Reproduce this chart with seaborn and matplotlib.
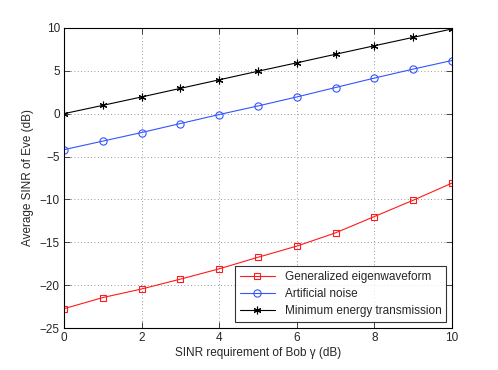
import numpy as np
import pandas as pd
import matplotlib
matplotlib.use("Agg")
import matplotlib.pyplot as plt
import seaborn as sns

gamma = [0, 1, 2, 3, 4, 5, 6, 7, 8, 9, 10]
gen_eigen = [-22.75, -21.45, -20.45, -19.3, -18.1, -16.75, -15.45, -13.9, -12.0, -10.1, -8.1]
art_noise = [-4.2, -3.2, -2.2, -1.15, -0.1, 0.9, 1.95, 3.05, 4.15, 5.2, 6.2]
min_energy = [0.0, 0.97, 1.95, 2.95, 3.95, 4.95, 5.93, 6.93, 7.92, 8.9, 9.88]

labels = ["Generalized eigenwaveform", "Artificial noise", "Minimum energy transmission"]
colors = ["#ff1a1a", "#3355ff", "black"]
markers = ["s", "o", (6, 2, 0)]
msizes = [4.6, 5.2, 5.5]

df = pd.DataFrame({"gamma": gamma * 3,
                   "sinr": gen_eigen + art_noise + min_energy,
                   "method": [labels[0]] * 11 + [labels[1]] * 11 + [labels[2]] * 11})

sns.set_style("white")
plt.rcParams["font.family"] = ["Liberation Sans", "DejaVu Sans"]
plt.rcParams["font.size"] = 8.5

fig = plt.figure(figsize=(4.98, 3.70), dpi=100)
ax = fig.add_axes([0.1285, 0.1135, 0.779, 0.811])

for lab, c, m, ms in zip(labels, colors, markers, msizes):
    sub = df[df["method"] == lab]
    sns.lineplot(data=sub, x="gamma", y="sinr", ax=ax, color=c, marker=m,
                 markersize=ms, markerfacecolor="none",
                 markeredgecolor=c, markeredgewidth=0.8, linewidth=0.8,
                 label=lab)

ax.set_xlim(0, 10)
ax.set_ylim(-25, 10)
ax.set_xticks(np.arange(0, 11, 2))
ax.set_yticks(np.arange(-25, 11, 5))
ax.set_yticklabels([str(v).replace("-", "\u2212") for v in range(-25, 11, 5)])
ax.grid(True, linestyle=(0, (1, 3)), color="#777777", linewidth=0.6)
ax.tick_params(direction="in", bottom=True, left=True, top=True, right=True,
               length=4, width=0.6, labelsize=8.5, pad=3)
for s in ax.spines.values():
    s.set_linewidth(0.8)
    s.set_color("black")
ax.set_xlabel("SINR requirement of Bob \u03b3 (dB)", fontsize=8.5, labelpad=2)
ax.set_ylabel("Average SINR of Eve (dB)", fontsize=8.5, labelpad=4)

leg = ax.legend(loc="lower right", fontsize=8.5, frameon=True, fancybox=False,
                edgecolor="black", borderpad=0.4, labelspacing=0.45,
                handlelength=3.0, borderaxespad=0.5)
leg.get_frame().set_linewidth(0.8)

fig.savefig("out.png", dpi=100)
